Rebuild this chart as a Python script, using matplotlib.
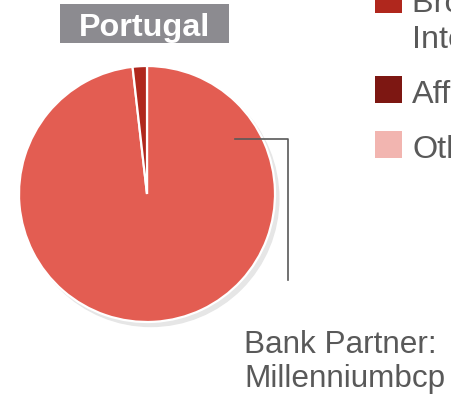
import matplotlib
matplotlib.use('Agg')
import matplotlib.pyplot as plt
from matplotlib.patches import Rectangle, Circle

plt.rcParams['font.family'] = ['Liberation Sans', 'DejaVu Sans']

# datos
channels = ['Bank Partner', 'Brokers / Intermediaries', 'Affinity', 'Others']
shares = [98.2, 1.8, 0.0, 0.0]
colors = ['#E35D52', '#B0271D', '#7D1712', '#F2B5B0']
legend_lines = [['Brokers /', 'Intermediaries'], ['Affinity'], ['Others']]
legend_colors = colors[1:]
country = 'Portugal'
partner_text = ['Bank Partner:', 'Millenniumbcp']

W, H = 451, 401
fig = plt.figure(figsize=(W / 100, H / 100), dpi=100)


def fx(x):
    return x / W


def fy(y):
    return 1 - y / H


# pastel
cx, cy, r = 147, 194, 128
ax = fig.add_axes([fx(cx - r), fy(cy + r), 2 * r / W, 2 * r / H])
ax.add_patch(Circle((0.03, -0.035), 1.0, color='#E6E6E6', zorder=0, clip_on=False))
vals = [v for v in shares if v > 0]
cols = [c for v, c in zip(shares, colors) if v > 0]
wedges, _ = ax.pie(vals, colors=cols, startangle=90, counterclock=False, radius=1.0,
                   wedgeprops=dict(edgecolor='white', linewidth=1.6))
for w in wedges:
    w.set_clip_on(False)
    w.set_zorder(1)
ax.set_xlim(-1, 1)
ax.set_ylim(-1, 1)
ax.axis('off')

# titulo
fig.patches.append(Rectangle((fx(60), fy(43)), 169 / W, 39 / H, transform=fig.transFigure,
                             facecolor='#8C8B90', edgecolor='none'))
fig.text(fx(144.5), fy(36), country, color='white', fontsize=23.3, fontweight='bold',
         ha='center', va='baseline')

# linea conector
line_col = '#595959'
fig.add_artist(plt.Line2D([fx(235), fx(288), fx(288)], [fy(139), fy(139), fy(280)],
                          transform=fig.transFigure, color=line_col, linewidth=1.2))

# texto partner
fig.text(fx(244), fy(353), partner_text[0], color=line_col, fontsize=22.7, ha='left', va='baseline')
fig.text(fx(244), fy(386.5), partner_text[1], color=line_col, fontsize=22.7, ha='left', va='baseline')

# leyenda
base_y = [12.5, 102.7, 157.7]
for lines, col, by in zip(legend_lines, legend_colors, base_y):
    fig.patches.append(Rectangle((fx(375), fy(by)), 27 / W, 27 / H, transform=fig.transFigure,
                                 facecolor=col, edgecolor='none'))
    for k, t in enumerate(lines):
        fig.text(fx(412), fy(by + 36 * k), t, color=line_col, fontsize=23.3,
                 ha='left', va='baseline')

plt.savefig('out.png', dpi=100)
